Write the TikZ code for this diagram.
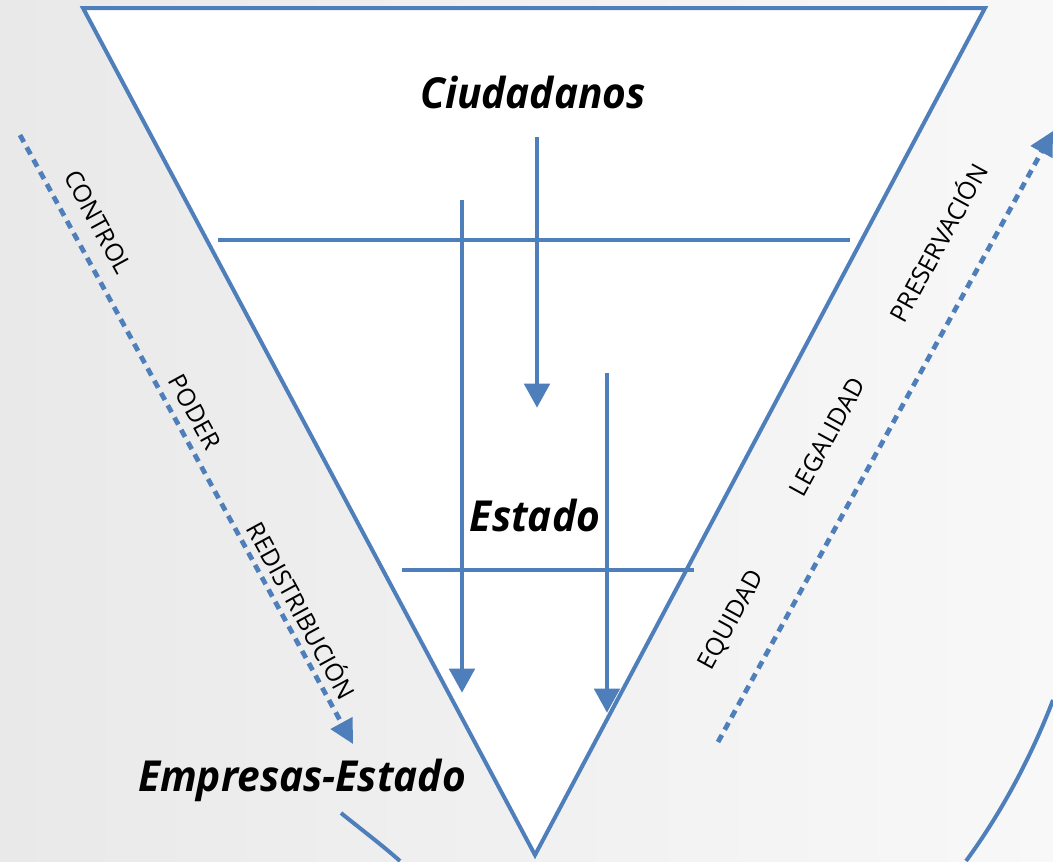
\documentclass[tikz,border=0pt]{standalone}
\usepackage{fontspec}
\setmainfont{Open Sans}
\usetikzlibrary{arrows.meta}
\definecolor{lineblue}{HTML}{4F7FBA}
\definecolor{bgleft}{HTML}{E9E9E9}
\definecolor{bgright}{HTML}{F8F8F8}
\tikzset{
  solidline/.style={draw=lineblue, line width=3pt},
  downarrow/.style={solidline, -{Triangle[width=19pt,length=18pt]}, shorten >=-2pt},
  dashline/.style={draw=lineblue, line width=3.6pt, dash pattern=on 6pt off 4.5pt, -{Triangle[width=18pt,length=18pt]}},
  bigtitle/.style={font=\fontsize{30.5pt}{36pt}\selectfont\bfseries\itshape, text=black, inner sep=0pt},
  smalllabel/.style={font=\fontsize{18.5pt}{22pt}\selectfont, text=black, inner sep=0pt},
}
\begin{document}
\begin{tikzpicture}[x=0.75pt, y=-0.75pt]
\useasboundingbox (0,0) rectangle (1053,861);
\shade[left color=bgleft, right color=bgright] (0,0) rectangle (1053,861);
% triangle corners
\coordinate (tl) at (83,8);
\coordinate (tr) at (985,8);
\coordinate (bt) at (535,855);
\fill[white] (tl) -- (tr) -- (bt) -- cycle;
\draw[solidline, line join=miter] (tl) -- (tr) -- (bt) -- cycle;
% horizontal bars
\coordinate (h1a) at (218,240); \coordinate (h1b) at (850,240);
\coordinate (h2a) at (402,570); \coordinate (h2b) at (694,570);
\draw[solidline] (h1a) -- (h1b);
\draw[solidline] (h2a) -- (h2b);
% vertical arrows
\coordinate (a1s) at (537,137); \coordinate (a1e) at (537,405);
\coordinate (a2s) at (462,200); \coordinate (a2e) at (462,690);
\coordinate (a3s) at (607,373); \coordinate (a3e) at (607,710);
\draw[downarrow] (a1s) -- (a1e);
\draw[downarrow] (a2s) -- (a2e);
\draw[downarrow] (a3s) -- (a3e);
% titles
\node[bigtitle, yscale=1.05] (ciud) at (533,92) {Ciudadanos};
\node[bigtitle, yscale=1.05] (est) at (535,515) {Estado};
\node[bigtitle, yscale=1.05] (empr) at (302,780) {Empresas-Estado};
% left dashed arrow
\coordinate (ls) at (20,135); \coordinate (le) at (353,744);
\draw[dashline] (ls) -- (le);
\node[smalllabel, rotate=-61.4] (control) at (98,222) {CONTROL};
\node[smalllabel, rotate=-61.4] (poder) at (195,412) {PODER};
\node[smalllabel, rotate=-61.4] (redis) at (303,610) {REDISTRIBUCIÓN};
% right dashed arrow
\coordinate (rs) at (718,742); \coordinate (re) at (1053,131);
\draw[dashline] (rs) -- (re);
\node[smalllabel, rotate=61.3] (pres) at (937,242) {PRESERVACIÓN};
\node[smalllabel, rotate=61.3] (legal) at (827,437) {LEGALIDAD};
\node[smalllabel, rotate=61.3] (equi) at (732,620) {EQUIDAD};
% bottom arcs
\coordinate (la) at (341,813); \coordinate (lb) at (400,861);
\draw[solidline] (la) .. controls (362,830) and (382,845) .. (lb);
\coordinate (ra) at (1053,700); \coordinate (rb) at (966,861);
\draw[solidline] (ra) .. controls (1032,755) and (1002,812) .. (rb);
\end{tikzpicture}
\end{document}
